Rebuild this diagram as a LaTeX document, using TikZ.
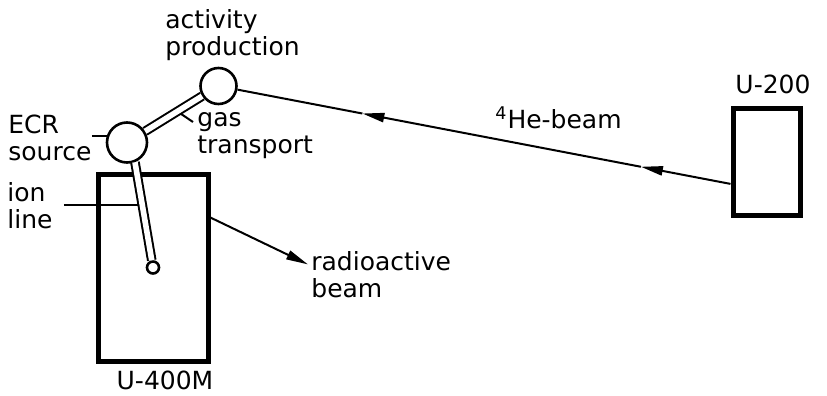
\documentclass[tikz,border=0pt]{standalone}
\usepackage{fontspec}
\setmainfont{DejaVu Sans}
\usetikzlibrary{arrows.meta,calc}

\begin{document}
\begin{tikzpicture}[x=0.5pt,y=-0.5pt,
    every node/.style={font=\fontsize{12.5}{13.5}\selectfont,inner sep=0pt},
    lbl/.style={align=left,anchor=west},
    box/.style={draw,line width=2.5pt},
    vessel/.style={draw,circle,line width=1.3pt},
    pipe/.style={double,line width=1pt,double distance=2.8pt},
    lead/.style={line width=1pt},
    tip/.style={-{Triangle[length=11pt,width=4.6pt]}}]
  \useasboundingbox (0,0) rectangle (827,396);
  % machines and vessels
  \node[box,minimum width=55pt,minimum height=93.5pt] (u400) at (153,267.5) {};
  \node[box,minimum width=33.5pt,minimum height=53.5pt] (u200) at (766.5,161.5) {};
  \node[vessel,minimum size=18pt] (act) at (218.5,86) {};
  \node[vessel,minimum size=20pt] (ecr) at (127,142.5) {};
  \node[vessel,minimum size=6pt] (target) at (u400.center) {};
  % labels
  \node[lbl] (actlbl) at (165,35) {activity\\production};
  \node[lbl] (ecrlbl) at (8,137.5) {ECR\\source};
  \node[lbl] (ionlbl) at (7,206) {ion\\line};
  \node[lbl] (gaslbl) at (197,136) {gas\\transport};
  \node[lbl] (radlbl) at (311,275) {radioactive\\beam};
  \node[anchor=base] (u400lbl) at (165,389) {U-400M};
  \node[anchor=base] (u200lbl) at (773,93) {U-200};
  \node[anchor=base west] (helbl) at (495,128) {\textsuperscript{4}He-beam};
  % points on the lines
  \coordinate (beamin) at ($(u200.south west)!0.3!(u200.north west)$);
  \coordinate (tipA) at ($(act)!0.281!(beamin)$);
  \coordinate (tipB) at ($(act)!0.825!(beamin)$);
  \coordinate (radout) at ($(u400.north east)!0.24!(u400.south east)$);
  \coordinate (radtip) at ([shift={(-1.5pt,-6.5pt)}]radlbl.north west);
  \coordinate (gaspt) at ($(ecr)!0.55!(act)$);
  \coordinate (gasend) at ([shift={(-2pt,7pt)}]gaslbl.west);
  \coordinate (ionstart) at ([xshift=5.5pt]ionlbl.east);
  \path (ecr.-68) -- (target) coordinate[pos=0.44] (ionpt);
  % leaders
  \draw[lead] (ecrlbl.east |- ecr.161) -- (ecr.161);
  \draw[lead] (ionstart |- ionpt) -- (ionpt);
  \draw[lead] (gaspt) -- (gasend);
  % pipes
  \draw[pipe] (ecr) -- (act);
  \draw[pipe] (ecr.-68) -- (target);
  % beams
  \draw[lead,tip] (beamin) -- (tipB);
  \draw[lead,tip] (tipB) -- (tipA);
  \draw[lead] (tipA) -- (act);
  \draw[lead,tip] (radout) -- (radtip);
\end{tikzpicture}
\end{document}
